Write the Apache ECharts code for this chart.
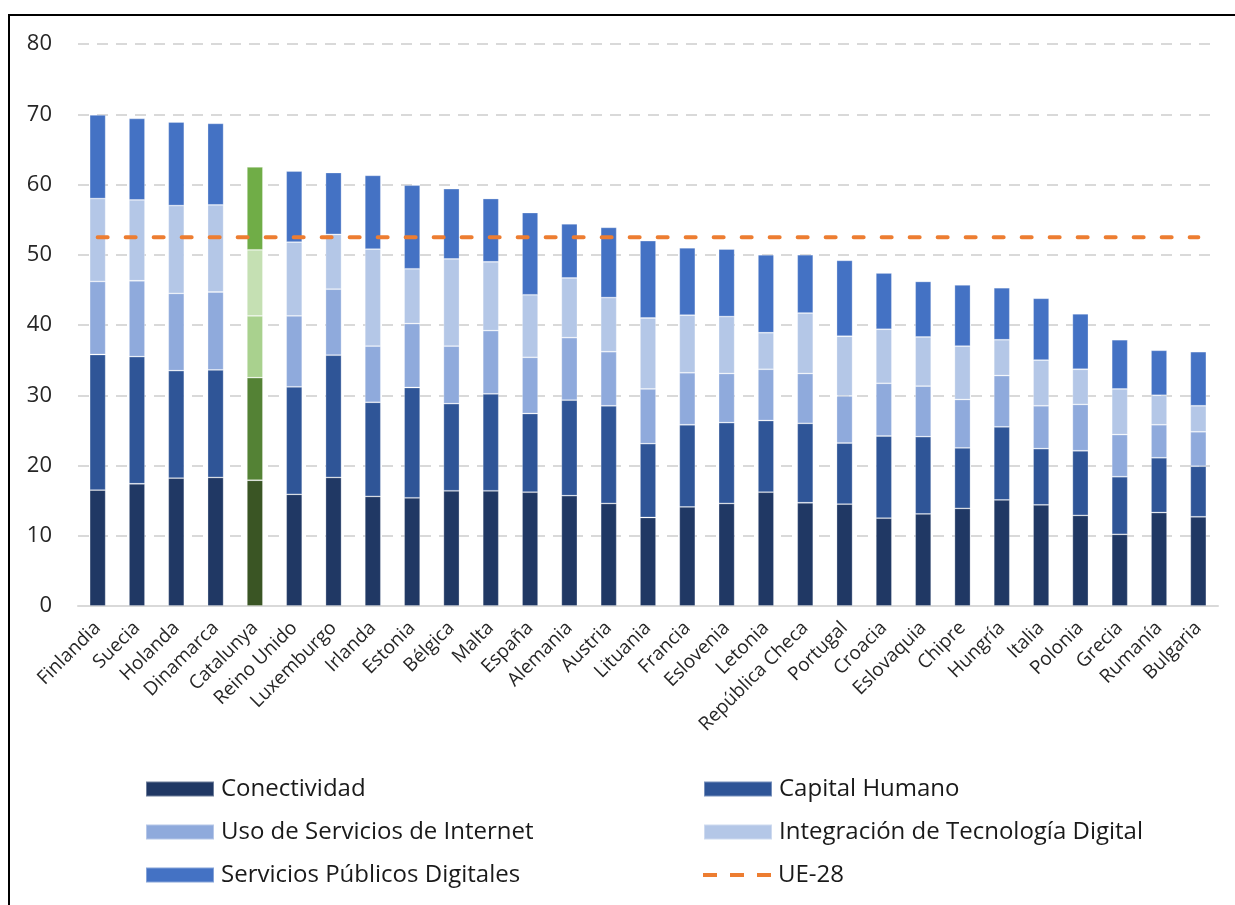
<!DOCTYPE html>
<html>
<head>
<meta charset="utf-8">
<script src="https://cdn.jsdelivr.net/npm/echarts@6/dist/echarts.min.js"></script>
<style>
html,body{margin:0;padding:0;background:#fff;}
#chart{width:1235px;height:905px;}
</style>
</head>
<body>
<div id="chart"></div>
<script>
const categories = ["Finlandia","Suecia","Holanda","Dinamarca","Catalunya","Reino Unido","Luxemburgo","Irlanda","Estonia","Bélgica","Malta","España","Alemania","Austria","Lituania","Francia","Eslovenia","Letonia","República Checa","Portugal","Croacia","Eslovaquia","Chipre","Hungría","Italia","Polonia","Grecia","Rumanía","Bulgaria"];
const conectividad = [16.5,17.4,18.2,18.3,17.9,15.9,18.3,15.6,15.4,16.4,16.4,16.2,15.7,14.6,12.6,14.1,14.6,16.2,14.7,14.5,12.5,13.1,13.9,15.1,14.4,12.9,10.2,13.3,12.7];
const capitalHumano = [19.3,18.1,15.3,15.3,14.6,15.3,17.4,13.4,15.7,12.4,13.8,11.2,13.6,13.9,10.5,11.7,11.5,10.2,11.3,8.7,11.7,11.0,8.6,10.4,8.0,9.2,8.2,7.8,7.2];
const usoInternet = [10.4,10.8,11.0,11.1,8.8,10.1,9.4,8.0,9.1,8.2,9.0,8.0,8.9,7.7,7.8,7.4,7.0,7.3,7.1,6.7,7.5,7.2,6.9,7.3,6.1,6.6,6.0,4.7,4.9];
const integracion = [11.8,11.5,12.5,12.4,9.4,10.5,7.8,13.8,7.8,12.4,9.8,8.9,8.5,7.7,10.1,8.2,8.1,5.2,8.6,8.5,7.7,7.0,7.6,5.1,6.5,5.0,6.5,4.2,3.7];
const serviciosPublicos = [11.9,11.6,11.9,11.6,11.8,10.1,8.8,10.5,11.9,10.0,9.0,11.7,7.7,10.0,11.0,9.6,9.6,11.1,8.3,10.8,8.0,7.9,8.7,7.4,8.8,7.9,7.0,6.4,7.7];
const ue28 = [52.5,52.5,52.5,52.5,52.5,52.5,52.5,52.5,52.5,52.5,52.5,52.5,52.5,52.5,52.5,52.5,52.5,52.5,52.5,52.5,52.5,52.5,52.5,52.5,52.5,52.5,52.5,52.5,52.5];
const yTicks = [0,10,20,30,40,50,60,70,80];

const seriesNames = ["Conectividad","Capital Humano","Uso de Servicios de Internet","Integración de Tecnología Digital","Servicios Públicos Digitales"];
const lineName = "UE-28";
const blueColors = ["#203864","#2f5597","#8faadc","#b4c7e7","#4472c4"];
const greenColors = ["#3a5524","#548235","#a9d18e","#c5e0b3","#70ad47"];
const highlightName = "Catalunya";
const allData = [conectividad, capitalHumano, usoInternet, integracion, serviciosPublicos];

const FONT = "'Open Sans', 'Noto Sans', sans-serif";

const barSeries = allData.map((arr, si) => ({
  name: seriesNames[si],
  type: 'bar',
  stack: 'total',
  barWidth: 16,
  itemStyle: { color: blueColors[si], borderColor: 'rgba(255,255,255,0.35)', borderWidth: 0.8 },
  emphasis: { disabled: true },
  data: arr.map((v, i) => categories[i] === highlightName
    ? { value: v, itemStyle: { color: greenColors[si] } }
    : v)
}));

function legendItem(name, left, centerY, isLine) {
  return {
    show: true,
    orient: 'horizontal',
    left: left,
    top: centerY - 13,
    padding: 0,
    itemWidth: 68,
    itemHeight: isLine ? 4 : 15,
    itemGap: 0,
    selectedMode: false,
    textStyle: { fontSize: 24, lineHeight: 26, color: '#1a1a1a', fontFamily: FONT, padding: [0,0,0,2] },
    data: [isLine
      ? { name: name, icon: 'path://M0,0h14v4h-14z M27,0h14v4h-14z M54,0h14v4h-14z' }
      : { name: name, icon: 'rect' }]
  };
}

const chart = echarts.init(document.getElementById('chart'), null, { renderer: 'canvas' });
chart.setOption({
  animation: false,
  backgroundColor: '#ffffff',
  graphic: [{
    type: 'rect',
    shape: { x: 9, y: 15, width: 1400, height: 1000 },
    style: { fill: 'none', stroke: '#000000', lineWidth: 2 },
    silent: true
  }],
  grid: { left: 78, right: 17, top: 44, bottom: 299, containLabel: false },
  xAxis: {
    type: 'category',
    data: categories,
    axisLine: { show: true, lineStyle: { color: '#d9d9d9', width: 2 } },
    axisTick: { show: false },
    axisLabel: { rotate: 45, interval: 0, margin: 19, fontSize: 19, color: '#262626', fontFamily: FONT }
  },
  yAxis: {
    type: 'value',
    min: 0, max: 80, interval: 10,
    axisLine: { show: false },
    axisTick: { show: false },
    axisLabel: { fontSize: 22, color: '#262626', fontFamily: FONT, margin: 26,
      formatter: v => yTicks.includes(v) ? String(v) : '' },
    splitLine: { show: true, lineStyle: { color: '#d9d9d9', width: 2, type: [11, 8] } }
  },
  legend: [
    legendItem(seriesNames[0], 145, 789, false),
    legendItem(seriesNames[2], 145, 832, false),
    legendItem(seriesNames[4], 145, 875, false),
    legendItem(seriesNames[1], 703, 789, false),
    legendItem(seriesNames[3], 703, 832, false),
    legendItem(lineName, 703, 875, true)
  ],
  series: barSeries.concat([{
    name: lineName,
    type: 'line',
    data: ue28,
    symbol: 'none',
    z: 5,
    lineStyle: { color: '#ed7d31', width: 4, type: [10, 18], cap: 'round' },
    itemStyle: { color: '#ed7d31' }
  }])
});
</script>
</body>
</html>
